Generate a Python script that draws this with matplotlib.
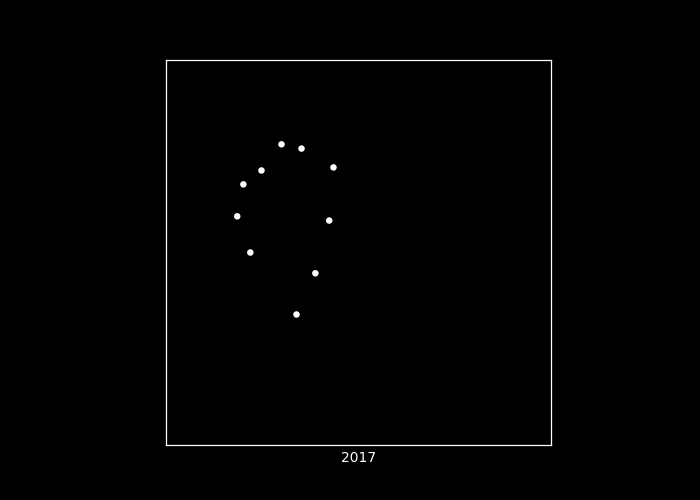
import matplotlib
matplotlib.use("Agg")
import matplotlib.pyplot as plt

# point positions (axis range 0..10 both ways)
xs = [3.00, 3.52, 4.35, 2.48, 2.01, 1.85, 4.24, 2.19, 3.88, 3.39]
ys = [7.81, 7.70, 7.21, 7.13, 6.77, 5.94, 5.83, 5.00, 4.46, 3.39]
year_label = "2017"

fig = plt.figure(figsize=(7, 5), dpi=100, facecolor="black")
ax = fig.add_axes([166 / 700, 55 / 500, 385 / 700, 385 / 500])
ax.set_facecolor("black")

ax.scatter(xs, ys, s=22, color="white", edgecolors="none")

ax.set_xlim(0, 10)
ax.set_ylim(0, 10)
ax.set_xticks([])
ax.set_yticks([])
for spine in ax.spines.values():
    spine.set_color("white")
    spine.set_linewidth(0.9)

ax.set_xlabel(year_label, color="white", fontsize=10, labelpad=4)

fig.savefig("out.png", dpi=100, facecolor="black")
